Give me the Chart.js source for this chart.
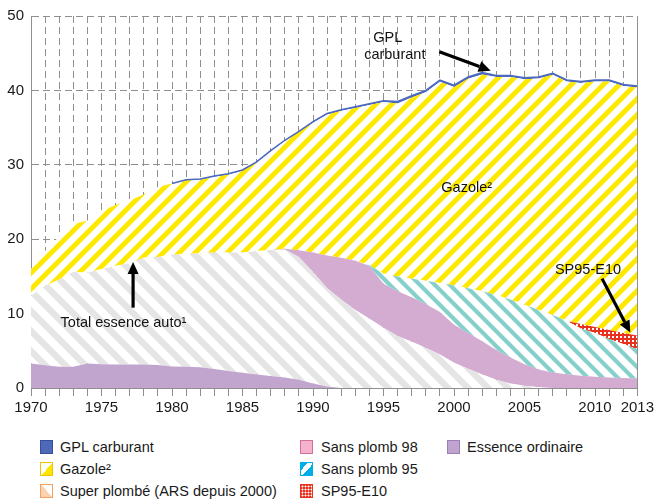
<!DOCTYPE html>
<html><head><meta charset="utf-8">
<script src="https://cdn.jsdelivr.net/npm/chart.js@4.4.0/dist/chart.umd.min.js"></script>
<style>
html,body{margin:0;padding:0;background:#fff;}
body{width:657px;height:500px;position:relative;overflow:hidden;font-family:"Liberation Sans",Arial,sans-serif;color:#1a1a1a;}
#c{position:absolute;left:0;top:0;}
.it{position:absolute;font-size:14.5px;line-height:16px;white-space:nowrap;}
.sw{position:absolute;left:0;top:1px;width:13px;height:14px;box-sizing:border-box;border:1px solid #888;}
.tx{position:absolute;top:0;}
</style></head>
<body>
<canvas id="c" width="657" height="420"></canvas>
<div class="it" style="left:40px;top:439px"><div class="sw" style="background:#4f69b8;border-color:#34509a"></div><span class="tx" style="left:20px">GPL carburant</span></div>
<div class="it" style="left:40px;top:461px"><div class="sw" style="background:linear-gradient(to bottom right,#fff 0 52%,#ffe600 52%);border-color:#f2c400"></div><span class="tx" style="left:20px">Gazole²</span></div>
<div class="it" style="left:40px;top:483px"><div class="sw" style="background:linear-gradient(to bottom left,#fff 0 48%,#fbd2b2 48%);border-color:#f5a05e"></div><span class="tx" style="left:20px">Super plombé (ARS depuis 2000)</span></div>
<div class="it" style="left:300px;top:439px"><div class="sw" style="background:#f4b2cc;border-color:#d27099"></div><span class="tx" style="left:21px">Sans plomb 98</span></div>
<div class="it" style="left:300px;top:461px"><div class="sw" style="background:linear-gradient(to bottom right,#00aee8 0 30%,#fff 30% 58%,#00aee8 58%);border-color:#00aee8"></div><span class="tx" style="left:21px">Sans plomb 95</span></div>
<div class="it" style="left:300px;top:483px"><div class="sw" style="background:radial-gradient(circle,#fff 0 0.9px,transparent 1.1px) 0 0/3px 3px,#e8321e;border-color:#e8321e"></div><span class="tx" style="left:21px">SP95-E10</span></div>
<div class="it" style="left:447px;top:439px"><div class="sw" style="background:#c0a3cf;border-color:#9b80b5"></div><span class="tx" style="left:20px">Essence ordinaire</span></div>
<script>
const years = [1970,1971,1972,1973,1974,1975,1976,1977,1978,1979,1980,1981,1982,1983,1984,1985,1986,1987,1988,1989,1990,1991,1992,1993,1994,1995,1996,1997,1998,1999,2000,2001,2002,2003,2004,2005,2006,2007,2008,2009,2010,2011,2012,2013];
const essenceOrdinaire = [3.3,3.05,2.85,2.85,3.3,3.2,3.15,3.15,3.15,3.1,2.9,2.85,2.8,2.55,2.3,2.05,1.8,1.6,1.4,1.1,0.6,0.2,0,0,0,0,0,0,0,0,0,0,0,0,0,0,0,0,0,0,0,0,0,0];
const superPlombe = [9.1,10.65,11.75,12.75,12.2,12.8,13.25,13.65,14.35,14.5,15.0,15.15,15.3,15.65,15.9,16.15,16.6,16.9,17.2,16.5,15.0,13.2,11.9,10.5,9.3,8.1,7.0,6.2,5.4,4.5,3.4,2.6,1.8,1.1,0.6,0.3,0.1,0,0,0,0,0,0,0];
const sansPlomb98 = [0,0,0,0,0,0,0,0,0,0,0,0,0,0,0,0,0,0,0.1,0.9,2.6,4.4,5.6,6.6,7.1,5.9,6.0,6.0,5.9,5.7,5.1,4.8,4.5,4.0,3.5,2.9,2.4,2.1,1.85,1.65,1.5,1.42,1.35,1.27];
const sansPlomb95 = [0,0,0,0,0,0,0,0,0,0,0,0,0,0,0,0,0,0,0,0,0,0,0,0,0.1,1.4,2.0,2.5,3.1,3.9,5.3,6.0,6.7,7.4,7.8,8.0,8.0,7.7,7.15,6.35,5.9,5.18,4.55,3.93];
const sp95E10 = [0,0,0,0,0,0,0,0,0,0,0,0,0,0,0,0,0,0,0,0,0,0,0,0,0,0,0,0,0,0,0,0,0,0,0,0,0,0,0,0.6,0.8,1.2,1.5,1.85];
const gazole = [3.6,4.7,5.8,6.4,7.0,7.8,8.2,8.4,8.5,9.4,9.6,9.95,9.9,10.2,10.5,11.0,11.9,13.3,14.5,15.9,17.45,18.95,19.75,20.55,21.55,23.05,23.25,24.35,25.35,27.05,26.65,28.15,29.15,29.3,29.9,30.3,31.1,32.3,32.2,32.4,33.0,33.4,33.2,33.35];
const gplCarburant = [0,0,0,0,0,0,0,0,0,0,0,0.05,0.1,0.1,0.1,0.1,0.1,0.1,0.1,0.1,0.15,0.15,0.15,0.15,0.15,0.15,0.25,0.25,0.25,0.25,0.25,0.25,0.25,0.2,0.2,0.2,0.2,0.2,0.2,0.2,0.2,0.2,0.2,0.2];
const xLabelYears = [1970,1975,1980,1985,1990,1995,2000,2005,2010,2013];
const yTicks = [0,10,20,30,40,50];

const FONT = '"Liberation Sans",Arial,sans-serif';
const canvas = document.getElementById('c');
const mainCtx = canvas.getContext('2d');

function stripes(color, size, width, dir){
  const t = document.createElement('canvas'); t.width = t.height = size;
  const g = t.getContext('2d');
  g.fillStyle = '#fff'; g.fillRect(0,0,size,size);
  g.strokeStyle = color; g.lineWidth = width; g.lineCap = 'square';
  g.beginPath();
  for (const k of [-size,0,size]) {
    if (dir === '/') { g.moveTo(k, size); g.lineTo(k+size, 0); }
    else { g.moveTo(k, 0); g.lineTo(k+size, size); }
  }
  g.stroke();
  return mainCtx.createPattern(t,'repeat');
}
function checker(){
  const t = document.createElement('canvas'); t.width = t.height = 4;
  const g = t.getContext('2d');
  g.fillStyle = '#e8321e'; g.fillRect(0,0,4,4);
  g.fillStyle = '#fff'; g.fillRect(0,0,2,2);
  return mainCtx.createPattern(t,'repeat');
}

const pGazole = stripes('#ffe800', 16, 5, '/');
const pSuper = stripes('#e5e5e5', 20, 6.5, '\\');
const pSP95 = stripes('#86d0cc', 15, 4.2, '\\');
const pE10 = checker();

function ds(label, data, bg, fill, extra){
  return Object.assign({label, data, backgroundColor: bg, borderWidth: 0, pointRadius: 0, fill, tension: 0}, extra||{});
}
const GPLBLUE = '#4c69c0';

const annotations = {
  texts: [
    {t:'GPL', x:1995.3, y:47.1, align:'center'},
    {t:'carburant', x:1995.8, y:44.7, align:'center'},
    {t:'Gazole²', x:2000.9, y:26.9, align:'center'},
    {t:'Total essence auto¹', x:1972.1, y:8.8, align:'left'},
    {t:'SP95-E10', x:2009.5, y:15.9, align:'center'}
  ],
  arrows: [
    {x1:1998.96, y1:45.2, x2:2002.6, y2:42.65},
    {x1:1977.24, y1:10.8, x2:1977.24, y2:16.95},
    {x1:2010.5, y1:14.7, x2:2012.5, y2:7.45}
  ]
};

const overlay = {
  id:'overlay',
  afterDraw(chart){
    const {ctx, chartArea:a, scales:{x, y}} = chart;
    const px = v => x.getPixelForValue(v - years[0]);
    ctx.save();
    ctx.strokeStyle = '#8f8f8f'; ctx.lineWidth = 1;
    ctx.beginPath(); ctx.moveTo(Math.round(a.right)+0.5, a.top); ctx.lineTo(Math.round(a.right)+0.5, a.bottom); ctx.stroke();
    ctx.fillStyle = '#111';
    ctx.font = '14.5px ' + FONT;
    ctx.textBaseline = 'middle';
    for (const t of annotations.texts) {
      ctx.textAlign = t.align;
      ctx.fillText(t.t, px(t.x), y.getPixelForValue(t.y));
    }
    ctx.strokeStyle = '#000'; ctx.fillStyle = '#000'; ctx.lineWidth = 3.2;
    for (const ar of annotations.arrows) {
      const x1 = px(ar.x1), y1 = y.getPixelForValue(ar.y1), x2 = px(ar.x2), y2 = y.getPixelForValue(ar.y2);
      const ang = Math.atan2(y2-y1, x2-x1), L = 12, W = 5.5;
      const bx = x2 - L*Math.cos(ang), by = y2 - L*Math.sin(ang);
      ctx.beginPath(); ctx.moveTo(x1,y1); ctx.lineTo(bx,by); ctx.stroke();
      ctx.beginPath(); ctx.moveTo(x2,y2);
      ctx.lineTo(bx + W*Math.sin(ang), by - W*Math.cos(ang));
      ctx.lineTo(bx - W*Math.sin(ang), by + W*Math.cos(ang));
      ctx.closePath(); ctx.fill();
    }
    ctx.restore();
  }
};

const tickFont = { family: FONT, size: 15 };

new Chart(canvas, {
  type: 'line',
  data: {
    labels: years.map(String),
    datasets: [
      ds('Essence ordinaire', essenceOrdinaire, '#c2a5cf', 'origin'),
      ds('Super plombé (ARS depuis 2000)', superPlombe, pSuper, '-1'),
      ds('Sans plomb 98', sansPlomb98, '#d4acd2', '-1'),
      ds('Sans plomb 95', sansPlomb95, pSP95, '-1'),
      ds('SP95-E10', sp95E10, pE10, '-1'),
      ds('Gazole²', gazole, pGazole, '-1'),
      ds('GPL carburant', gplCarburant, GPLBLUE, '-1', {
        borderWidth: 1.5, borderColor: GPLBLUE,
        segment: { borderColor: c => (gplCarburant[c.p0DataIndex] === 0 && gplCarburant[c.p1DataIndex] === 0) ? 'rgba(0,0,0,0)' : GPLBLUE }
      })
    ]
  },
  options: {
    responsive: false, animation: false, devicePixelRatio: 1,
    layout: { padding: { top: 13, right: 19, left: 0, bottom: 0 } },
    plugins: { legend: { display: false }, tooltip: { enabled: false }, filler: { drawTime: 'beforeDatasetsDraw' } },
    elements: { line: { borderWidth: 0 } },
    scales: {
      x: {
        offset: false,
        grid: { color: '#8f8f8f', lineWidth: 1, drawTicks: true, tickLength: 8, tickColor: '#8f8f8f', tickBorderDash: [] },
        border: { display: true, color: '#8f8f8f', width: 1, dash: [7,4] },
        ticks: {
          autoSkip: false, maxRotation: 0, padding: 3, color: '#1a1a1a', font: tickFont,
          callback: (v, i) => xLabelYears.includes(years[i]) ? String(years[i]) : ''
        },
        afterFit: s => { s.height = 32; }
      },
      y: {
        stacked: true, min: yTicks[0], max: yTicks[yTicks.length-1],
        grid: { color: '#8f8f8f', lineWidth: 1, drawTicks: false },
        border: { display: true, color: '#8f8f8f', width: 1, dash: [7,4] },
        ticks: { stepSize: 10, padding: 7, color: '#1a1a1a', font: tickFont },
        afterBuildTicks: s => { s.ticks = yTicks.map(v => ({value: v})); },
        afterFit: s => { s.width = 31; }
      }
    }
  },
  plugins: [overlay]
});
</script>
</body></html>
